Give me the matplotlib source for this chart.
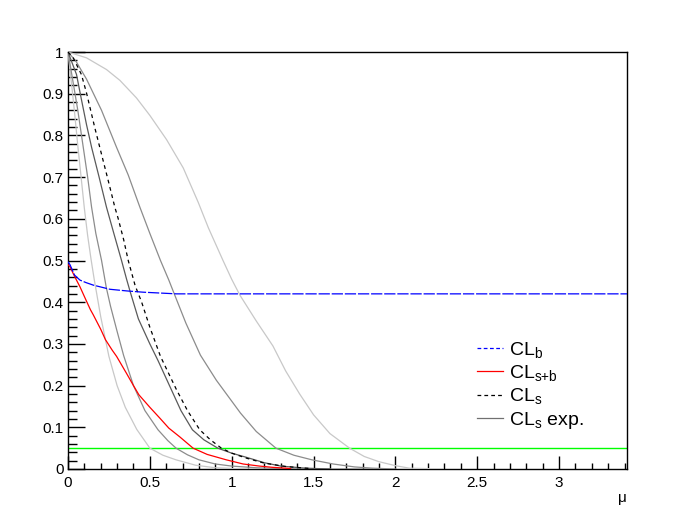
import numpy as np
import matplotlib
matplotlib.use("Agg")
import matplotlib.pyplot as plt
from matplotlib.lines import Line2D
from matplotlib.ticker import MultipleLocator, FuncFormatter

plt.rcParams['font.family'] = ['Liberation Sans', 'DejaVu Sans']
plt.rcParams['mathtext.default'] = 'regular'

# values (mu vs CL)
mu_clb = [0, 0.012, 0.04, 0.073, 0.11, 0.154, 0.256, 0.36, 0.459, 0.663, 1.0, 2.0, 3.5]
clb = [0.497, 0.49, 0.465, 0.453, 0.447, 0.441, 0.431, 0.427, 0.424, 0.42, 0.42, 0.42, 0.42]

mu_clsb = [0, 0.012, 0.04, 0.073, 0.11, 0.137, 0.154, 0.2, 0.229, 0.27, 0.297, 0.358, 0.4,
           0.433, 0.5, 0.561, 0.616, 0.683, 0.764, 0.85, 0.967, 1.07, 1.17, 1.25, 1.33, 1.36]
clsb = [0.49, 0.485, 0.462, 0.437, 0.405, 0.382, 0.37, 0.335, 0.31, 0.285, 0.27, 0.229, 0.2,
        0.178, 0.148, 0.122, 0.098, 0.077, 0.05, 0.035, 0.022, 0.012, 0.007, 0.004, 0.002, 0.001]

mu_cls = [0.0, 0.032, 0.082, 0.113, 0.164, 0.215, 0.25, 0.286, 0.307, 0.34, 0.368, 0.41, 0.45,
          0.5, 0.565, 0.62, 0.663, 0.73, 0.805, 0.87, 0.937, 1.0, 1.09, 1.2, 1.33, 1.42, 1.49]
cls = [1.0, 0.986, 0.946, 0.902, 0.818, 0.739, 0.685, 0.628, 0.6, 0.55, 0.5, 0.44, 0.4,
       0.34, 0.27, 0.225, 0.19, 0.14, 0.094, 0.07, 0.05, 0.038, 0.026, 0.014, 0.006, 0.003, 0.001]

# expected CLs: median and +-1, +-2 sigma
mu_exp = [0, 0.052, 0.08, 0.113, 0.145, 0.19, 0.235, 0.28, 0.327, 0.358, 0.38, 0.43,
          0.5, 0.55, 0.62, 0.69, 0.76, 0.83, 0.915, 1.0, 1.09, 1.2, 1.3, 1.45, 1.6]
cls_exp = [1, 0.946, 0.89, 0.826, 0.77, 0.7, 0.628, 0.565, 0.5, 0.455, 0.425, 0.36,
           0.3, 0.26, 0.2, 0.14, 0.094, 0.07, 0.05, 0.038, 0.028, 0.015, 0.007, 0.002, 0.0]

mu_m1 = [0, 0.03, 0.06, 0.09, 0.12, 0.144, 0.17, 0.205, 0.234, 0.26, 0.3, 0.34, 0.4, 0.47,
         0.55, 0.61, 0.66, 0.73, 0.8, 0.9, 1.0, 1.15, 1.3, 1.5, 1.86]
cls_m1 = [1, 0.93, 0.86, 0.78, 0.7, 0.628, 0.565, 0.5, 0.435, 0.39, 0.33, 0.272, 0.2, 0.14,
          0.094, 0.068, 0.05, 0.034, 0.022, 0.012, 0.007, 0.003, 0.001, 0.0, 0.0]

mu_m2 = [0, 0.02, 0.04, 0.06, 0.08, 0.1, 0.12, 0.14, 0.16, 0.18, 0.2, 0.25, 0.3, 0.35,
         0.42, 0.5, 0.58, 0.66, 0.78, 0.9, 1.05, 1.2]
cls_m2 = [1, 0.93, 0.855, 0.775, 0.7, 0.625, 0.56, 0.505, 0.455, 0.41, 0.365, 0.27, 0.2, 0.148,
          0.095, 0.05, 0.033, 0.022, 0.009, 0.003, 0.0005, 0.0]

mu_p1 = [0, 0.05, 0.113, 0.205, 0.296, 0.368, 0.439, 0.5, 0.565, 0.616, 0.634, 0.72, 0.809,
         0.906, 1.054, 1.15, 1.27, 1.38, 1.49, 1.62, 1.75, 1.86, 2.0]
cls_p1 = [1, 0.977, 0.935, 0.86, 0.772, 0.705, 0.628, 0.565, 0.5, 0.453, 0.435, 0.35, 0.273,
          0.213, 0.134, 0.09, 0.05, 0.033, 0.022, 0.012, 0.005, 0.002, 0.0]

mu_p2 = [0, 0.113, 0.235, 0.317, 0.418, 0.5, 0.602, 0.704, 0.795, 0.858, 0.947, 1.0, 1.05,
         1.15, 1.252, 1.33, 1.415, 1.5, 1.6, 1.72, 1.81, 1.9, 2.0, 2.085, 2.29]
cls_p2 = [1, 0.986, 0.958, 0.932, 0.89, 0.848, 0.79, 0.722, 0.64, 0.578, 0.5, 0.455, 0.417,
          0.355, 0.295, 0.235, 0.18, 0.13, 0.085, 0.05, 0.03, 0.0175, 0.008, 0.002, 0.0]

cl_level = 0.05

fig = plt.figure(figsize=(6.96, 5.22), dpi=100)
ax = fig.add_axes([68/696, 1 - 469/522, 559/696, 417/522])

ax.axhline(cl_level, color='#00ff00', lw=1.0, zorder=1)

ax.plot(mu_m2, cls_m2, color='#c8c8c8', lw=0.9, zorder=3)
ax.plot(mu_p2, cls_p2, color='#c8c8c8', lw=0.9, zorder=3)
ax.plot(mu_m1, cls_m1, color='#8c8c8c', lw=0.9, zorder=3)
ax.plot(mu_p1, cls_p1, color='#8c8c8c', lw=0.9, zorder=3)
ax.plot(mu_exp, cls_exp, color='#5a5a5a', lw=0.9, zorder=3)
ax.plot(mu_cls, cls, color='black', lw=0.9, dashes=(3, 3), zorder=4)
ax.plot(mu_clsb, clsb, color='red', lw=0.9, zorder=4)
ax.plot(mu_clb, clb, color='blue', lw=0.9, dashes=(9, 1.5), zorder=4)

ax.set_xlim(0, 3.415)
ax.set_ylim(0, 1)

for s in ax.spines.values():
    s.set_linewidth(1.0)

ax.xaxis.set_major_locator(MultipleLocator(0.5))
ax.xaxis.set_minor_locator(MultipleLocator(0.1))
ax.yaxis.set_major_locator(MultipleLocator(0.1))
ax.yaxis.set_minor_locator(MultipleLocator(0.02))
fmt = FuncFormatter(lambda v, p: '%g' % round(v, 2))
ax.xaxis.set_major_formatter(fmt)
ax.yaxis.set_major_formatter(fmt)

ax.tick_params(axis='both', which='both', direction='in', top=False, right=False,
               labelsize=11, width=1.0)
ax.tick_params(axis='y', which='major', length=12.2, pad=3)
ax.tick_params(axis='y', which='minor', length=6.3)
ax.tick_params(axis='x', which='major', length=9.1, pad=5)
ax.tick_params(axis='x', which='minor', length=4.6)

ax.text(1.0, -0.052, 'μ', transform=ax.transAxes, ha='right', va='top', fontsize=11)

handles = [Line2D([], [], color='blue', lw=0.9, dashes=(3, 2)),
           Line2D([], [], color='red', lw=0.9),
           Line2D([], [], color='black', lw=0.9, dashes=(3, 2.5)),
           Line2D([], [], color='#707070', lw=0.9)]
labels = ['CL$_{b}$', 'CL$_{s{+}b}$', 'CL$_{s}$', 'CL$_{s}$ exp.']
ax.legend(handles, labels, loc='upper left', bbox_to_anchor=(0.732, 0.31), frameon=False,
          fontsize=14, handlelength=1.35, handletextpad=0.3, labelspacing=0.17,
          borderaxespad=0, borderpad=0)

fig.savefig('out.png', dpi=100)
